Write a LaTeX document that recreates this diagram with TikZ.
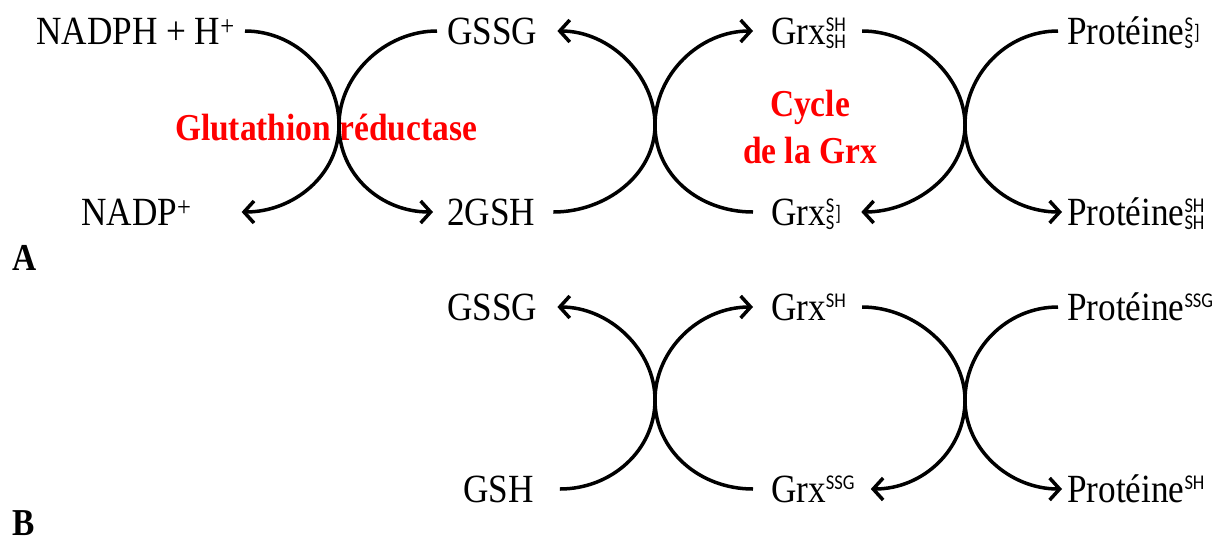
\documentclass[tikz,border=0pt]{standalone}
\usepackage{fontspec}
\setmainfont{Liberation Serif}[FakeStretch=0.88]
\newfontfamily\subf{Carlito}[FakeStretch=0.88]
\usetikzlibrary{arrows.meta}
\newcommand{\smallsf}{\subf\fontsize{21}{21}\selectfont}
\newcommand{\stk}[2]{{\smallsf\rlap{\raisebox{13pt}{#1}}\raisebox{-4pt}{#2}}}
\newcommand{\supx}[1]{{\smallsf\raisebox{13pt}{#1}}}
\newcommand{\brk}{{\smallsf\kern1pt\raisebox{4.5pt}{]}}}
\begin{document}
\begin{tikzpicture}[x=1pt,y=-1pt,
  lbl/.style={inner sep=0pt, text height=26.5pt, text depth=0pt, font=\fontsize{40}{44}\selectfont},
  enz/.style={text=red, inner sep=0pt, font=\fontsize{38}{42}\selectfont\bfseries},
  panel/.style={inner sep=0pt, font=\fontsize{38}{42}\selectfont\bfseries},
  arr/.style={line width=3.5pt, -{Straight Barb[length=10pt,width=22pt]}}
]
\useasboundingbox (0,0) rectangle (1221,542);

% crossing points
\coordinate (X1) at (339,125);
\coordinate (X2) at (655,125);
\coordinate (X3) at (965,125);
\coordinate (X4) at (655,400);
\coordinate (X5) at (965,400);

% Panel A
\node[lbl, anchor=east] (nadph) at (235,31) {NADPH + H\textsuperscript{+}};
\node[lbl, anchor=west] (gssgA) at (447,31) {GSSG};
\node[lbl, anchor=west] (grxA1) at (771,31) {Grx\stk{SH}{SH}};
\node[lbl, anchor=west] (protA1) at (1067,31) {Protéine\stk{S}{S}\brk};
\node[lbl, anchor=west] (nadp) at (81,212) {NADP\textsuperscript{+}};
\node[lbl, anchor=west] (gsh2) at (447,212) {2GSH};
\node[lbl, anchor=west] (grxA2) at (771,212) {Grx\stk{S}{S}\brk};
\node[lbl, anchor=west] (protA2) at (1067,212) {Protéine\stk{SH}{SH}};

\node[enz] (gr) at (326,128) {Glutathion réductase};
\node[enz] (cyc1) at (810,107) {Cycle};
\node[enz] (cyc2) at (810,150) {de la Grx};
\node[panel, anchor=west] (pA) at (12,258) {A};

\draw[arr] ([xshift=10pt]nadph.east) .. controls +(52,0) and +(0,-50) .. (X1)
           .. controls +(0,50) and +(52,0) .. ([xshift=50pt]nadp.east);
\draw[arr] ([xshift=-10pt]gssgA.west) .. controls +(-52,0) and +(0,-50) .. (X1)
           .. controls +(0,50) and +(-52,0) .. ([xshift=-14pt]gsh2.west);
\draw[arr] ([xshift=18pt]gsh2.east) .. controls +(52,0) and +(0,50) .. (X2)
           .. controls +(0,-50) and +(52,0) .. ([xshift=20pt]gssgA.east);
\draw[arr] ([xshift=-18pt]grxA2.west) .. controls +(-54,0) and +(0,50) .. (X2)
           .. controls +(0,-50) and +(-54,0) .. ([xshift=-18pt]grxA1.west);
\draw[arr] ([xshift=16pt]grxA1.east) .. controls +(52,0) and +(0,-50) .. (X3)
           .. controls +(0,50) and +(52,0) .. ([xshift=20pt]grxA2.east);
\draw[arr] ([xshift=-9pt]protA1.west) .. controls +(-52,0) and +(0,-50) .. (X3)
           .. controls +(0,50) and +(-52,0) .. ([xshift=-5pt]protA2.west);

% Panel B
\node[lbl, anchor=west] (gssgB) at (447,307) {GSSG};
\node[lbl, anchor=west] (grxB1) at (771,307) {Grx\supx{SH}};
\node[lbl, anchor=west] (protB1) at (1067,307) {Protéine\supx{SSG}};
\node[lbl, anchor=west] (gshB) at (463,489) {GSH};
\node[lbl, anchor=west] (grxB2) at (771,489) {Grx\supx{SSG}};
\node[lbl, anchor=west] (protB2) at (1067,489) {Protéine\supx{SH}};
\node[panel, anchor=west] (pB) at (12,523) {B};

\draw[arr] ([xshift=26pt]gshB.east) .. controls +(52,0) and +(0,50) .. (X4)
           .. controls +(0,-50) and +(52,0) .. ([xshift=20pt]gssgB.east);
\draw[arr] ([xshift=-18pt]grxB2.west) .. controls +(-54,0) and +(0,50) .. (X4)
           .. controls +(0,-50) and +(-54,0) .. ([xshift=-18pt]grxB1.west);
\draw[arr] ([xshift=16pt]grxB1.east) .. controls +(52,0) and +(0,-50) .. (X5)
           .. controls +(0,50) and +(52,0) .. ([xshift=16pt]grxB2.east);
\draw[arr] ([xshift=-9pt]protB1.west) .. controls +(-52,0) and +(0,-50) .. (X5)
           .. controls +(0,50) and +(-52,0) .. ([xshift=-5pt]protB2.west);
\end{tikzpicture}
\end{document}
